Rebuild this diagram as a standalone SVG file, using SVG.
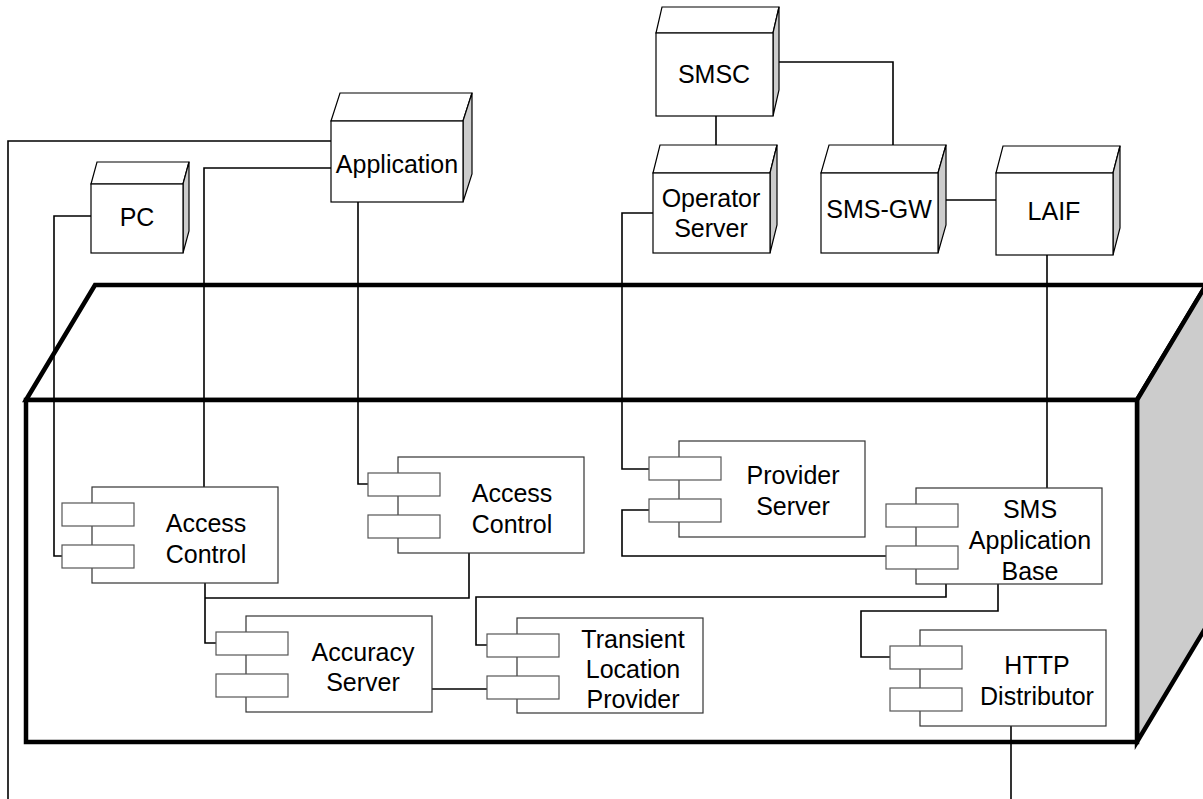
<svg xmlns="http://www.w3.org/2000/svg" width="1203" height="799" viewBox="0 0 1203 799">
<style>
text{font-family:"Liberation Sans",Arial,sans-serif;font-size:25px;fill:#000;text-anchor:middle}
.box{fill:#fff;stroke:#000;stroke-width:4.5;stroke-linejoin:miter}
.side{fill:#cccccc;stroke:#000;stroke-width:4.5}
.nf{fill:#fff;stroke:#000;stroke-width:1.2}
.ns{fill:#cccccc;stroke:#000;stroke-width:1.2}
.cm{fill:#fff;stroke:#333;stroke-width:1.2}
.pt{fill:#fff;stroke:#555;stroke-width:1.2}
.cn{fill:none;stroke:#000;stroke-width:1.6}
</style>
<g id="device">
<polygon class="box" points="26,400 95,285 1206,285 1137,400"/>
<polygon class="side" points="1137,400 1206,285 1206,627 1137,742"/>
<rect class="box" x="26" y="400" width="1111" height="342"/>
</g>
<g id="connectors">
<path class="cn" d="M331,141 H8 V799"/>
<path class="cn" d="M331,168 H204 V487"/>
<path class="cn" d="M358,202 V484 H368"/>
<path class="cn" d="M91,216 H54 V556 H62"/>
<path class="cn" d="M205,583 V643 H216"/>
<path class="cn" d="M469,553 V598 H205"/>
<path class="cn" d="M432,689 H487"/>
<path class="cn" d="M946,584 V597 H476 V645 H487"/>
<path class="cn" d="M998,584 V611 H861 V657 H890"/>
<path class="cn" d="M1011,726 V799"/>
<path class="cn" d="M716,116 V145"/>
<path class="cn" d="M779,62 H893 V145"/>
<path class="cn" d="M946,200 H996"/>
<path class="cn" d="M653,213 H622 V469 H649"/>
<path class="cn" d="M649,510 H622 V556 H886"/>
<path class="cn" d="M1047,255 V488"/>
</g>
<g id="application">
<polygon class="nf" points="331,121 340,93 472,93 463,121"/>
<polygon class="ns" points="463,121 472,93 472,174 463,202"/>
<rect class="nf" x="331" y="121" width="132" height="81"/>
<text x="397" y="173">Application</text>
</g>
<g id="pc">
<polygon class="nf" points="91,184 97,162 189,162 183,184"/>
<polygon class="ns" points="183,184 189,162 189,231 183,253"/>
<rect class="nf" x="91" y="184" width="92" height="69"/>
<text x="137" y="226">PC</text>
</g>
<g id="smsc">
<polygon class="nf" points="656,33 662,7 779,7 773,33"/>
<polygon class="ns" points="773,33 779,7 779,90 773,116"/>
<rect class="nf" x="656" y="33" width="117" height="83"/>
<text x="714" y="83">SMSC</text>
</g>
<g id="operator-server">
<polygon class="nf" points="653,173 660,145 777,145 770,173"/>
<polygon class="ns" points="770,173 777,145 777,225 770,253"/>
<rect class="nf" x="653" y="173" width="117" height="80"/>
<text x="711" y="207">Operator</text>
<text x="711" y="237">Server</text>
</g>
<g id="sms-gw">
<polygon class="nf" points="821,173 829,145 946,145 938,173"/>
<polygon class="ns" points="938,173 946,145 946,225 938,253"/>
<rect class="nf" x="821" y="173" width="117" height="80"/>
<text x="879" y="218">SMS-GW</text>
</g>
<g id="laif">
<polygon class="nf" points="996,173 1003,146 1120,146 1113,173"/>
<polygon class="ns" points="1113,173 1120,146 1120,228 1113,255"/>
<rect class="nf" x="996" y="173" width="117" height="82"/>
<text x="1054" y="220">LAIF</text>
</g>
<g id="access-control-1">
<rect class="cm" x="92" y="487" width="186" height="96"/>
<rect class="pt" x="62" y="503" width="72" height="23"/>
<rect class="pt" x="62" y="545" width="72" height="23"/>
<text x="206" y="532">Access</text>
<text x="206" y="563">Control</text>
</g>
<g id="access-control-2">
<rect class="cm" x="398" y="457" width="186" height="96"/>
<rect class="pt" x="368" y="473" width="72" height="23"/>
<rect class="pt" x="368" y="515" width="72" height="23"/>
<text x="512" y="502">Access</text>
<text x="512" y="533">Control</text>
</g>
<g id="provider-server">
<rect class="cm" x="679" y="441" width="186" height="96"/>
<rect class="pt" x="649" y="457" width="72" height="23"/>
<rect class="pt" x="649" y="499" width="72" height="23"/>
<text x="793" y="484">Provider</text>
<text x="793" y="515">Server</text>
</g>
<g id="sms-application-base">
<rect class="cm" x="916" y="488" width="186" height="96"/>
<rect class="pt" x="886" y="504" width="72" height="23"/>
<rect class="pt" x="886" y="546" width="72" height="23"/>
<text x="1030" y="518">SMS</text>
<text x="1030" y="549">Application</text>
<text x="1030" y="580">Base</text>
</g>
<g id="accuracy-server">
<rect class="cm" x="246" y="616" width="186" height="96"/>
<rect class="pt" x="216" y="632" width="72" height="23"/>
<rect class="pt" x="216" y="674" width="72" height="23"/>
<text x="363" y="661">Accuracy</text>
<text x="363" y="691">Server</text>
</g>
<g id="transient-location-provider">
<rect class="cm" x="517" y="618" width="186" height="95"/>
<rect class="pt" x="487" y="634" width="72" height="23"/>
<rect class="pt" x="487" y="676" width="72" height="23"/>
<text x="633" y="648">Transient</text>
<text x="633" y="678">Location</text>
<text x="633" y="708">Provider</text>
</g>
<g id="http-distributor">
<rect class="cm" x="920" y="630" width="186" height="96"/>
<rect class="pt" x="890" y="646" width="72" height="23"/>
<rect class="pt" x="890" y="688" width="72" height="23"/>
<text x="1037" y="674">HTTP</text>
<text x="1037" y="705">Distributor</text>
</g>
</svg>
